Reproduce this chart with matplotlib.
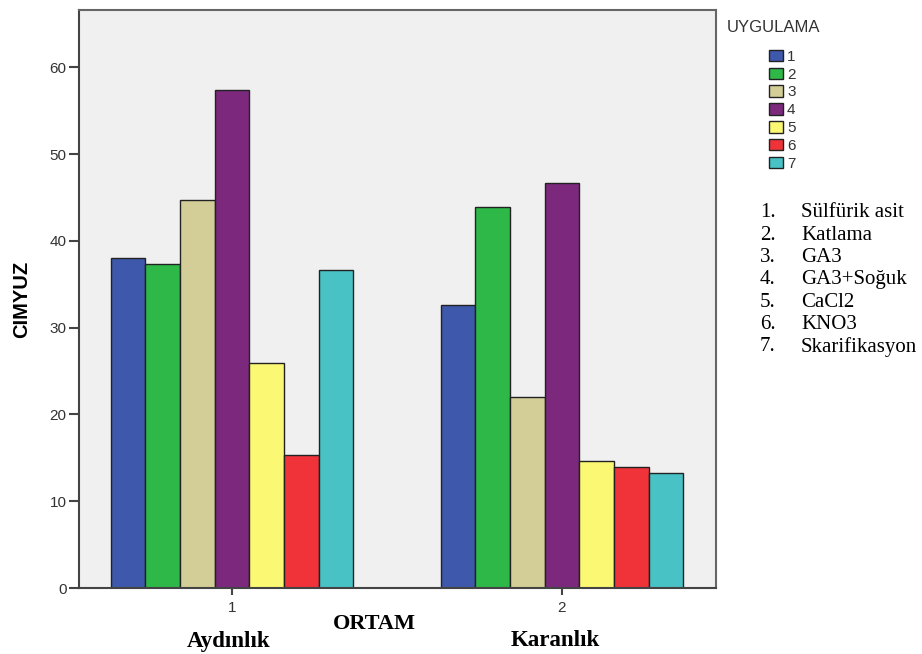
import numpy as np
import matplotlib.pyplot as plt
from matplotlib.patches import Patch

# ORTAM groups and UYGULAMA series
groups = [1, 2]
group_names = ["Aydınlık", "Karanlık"]
series = ["1", "2", "3", "4", "5", "6", "7"]
treatments = ["Sülfürik asit", "Katlama", "GA3", "GA3+Soğuk", "CaCl2", "KNO3", "Skarifikasyon"]
values = [
    [38.0, 32.6],  # 1
    [37.3, 43.9],  # 2
    [44.7, 22.0],  # 3
    [57.4, 46.7],  # 4
    [25.9, 14.6],  # 5
    [15.3, 14.0],  # 6
    [36.6, 13.3],  # 7
]
colors = ["#3e58ac", "#2eb848", "#d3ce97", "#7b287d", "#fbf873", "#ef3338", "#48c2c5"]

sans = "Liberation Sans"
serif = "Liberation Serif"

fig = plt.figure(figsize=(9.22, 6.54), dpi=100)
ax = fig.add_axes([0.0857, 0.1009, 0.6909, 0.8838])
ax.set_facecolor("#f0f0f0")

n = len(series)
width = 0.105
x = np.array(groups, dtype=float)
for i in range(n):
    offs = (i - (n - 1) / 2) * width
    ax.bar(x + offs, values[i], width, color=colors[i], edgecolor="#222222",
           linewidth=1.0, label=series[i], zorder=2)

ax.set_xlim(0.536, 2.467)
ax.set_ylim(0, 66.6)
ax.set_yticks([0, 10, 20, 30, 40, 50, 60])
ax.set_xticks(groups)
ax.set_xticklabels(["1", "2"])
for s in ax.spines.values():
    s.set_color("#444444")
    s.set_linewidth(1.5)
ax.spines["top"].set_color("#666666")
ax.spines["right"].set_color("#666666")
ax.tick_params(axis="y", length=7, width=1.5, color="#444444", labelsize=11, labelcolor="#333333", pad=2)
ax.tick_params(axis="x", length=5, width=1.5, color="#444444", labelsize=11, labelcolor="#333333", pad=4)
for lab in ax.get_xticklabels() + ax.get_yticklabels():
    lab.set_family(sans)

ax.set_ylabel("CIMYUZ", fontsize=14.5, fontweight="bold", family=sans)
ax.yaxis.set_label_coords(-0.075, 0.5)

fig.text(374 / 922, 1 - 624 / 654, "ORTAM", ha="center", va="center", fontsize=16,
         fontweight="bold", family=serif)
fig.text(229 / 922, 1 - 641 / 654, group_names[0], ha="center", va="center", fontsize=16.5,
         fontweight="bold", family=serif)
fig.text(555 / 922, 1 - 641 / 654, group_names[1], ha="center", va="center", fontsize=16.5,
         fontweight="bold", family=serif)

# legend
fig.text(727 / 922, 1 - 28 / 654, "UYGULAMA", ha="left", va="center", fontsize=12,
         color="#333333", family=sans)
handles = [Patch(facecolor=colors[i], edgecolor="#222222", linewidth=1.0) for i in range(n)]
leg = fig.legend(handles, series, loc="upper left", bbox_to_anchor=(758 / 922, 1 - 39 / 654),
                 frameon=False, prop={"family": sans, "size": 11}, handlelength=0.95,
                 handleheight=0.8, handletextpad=0.25, labelspacing=0.24, borderpad=0.2,
                 labelcolor="#333333")

# treatment names
for i, name in enumerate(treatments):
    yy = 1 - (213 + i * 22.3) / 654
    fig.text(760 / 922, yy, f"{i + 1}.", ha="left", va="center", fontsize=15, family=serif)
    fig.text(801 / 922, yy, name, ha="left", va="center", fontsize=15, family=serif)

fig.savefig("out.png", dpi=100)
